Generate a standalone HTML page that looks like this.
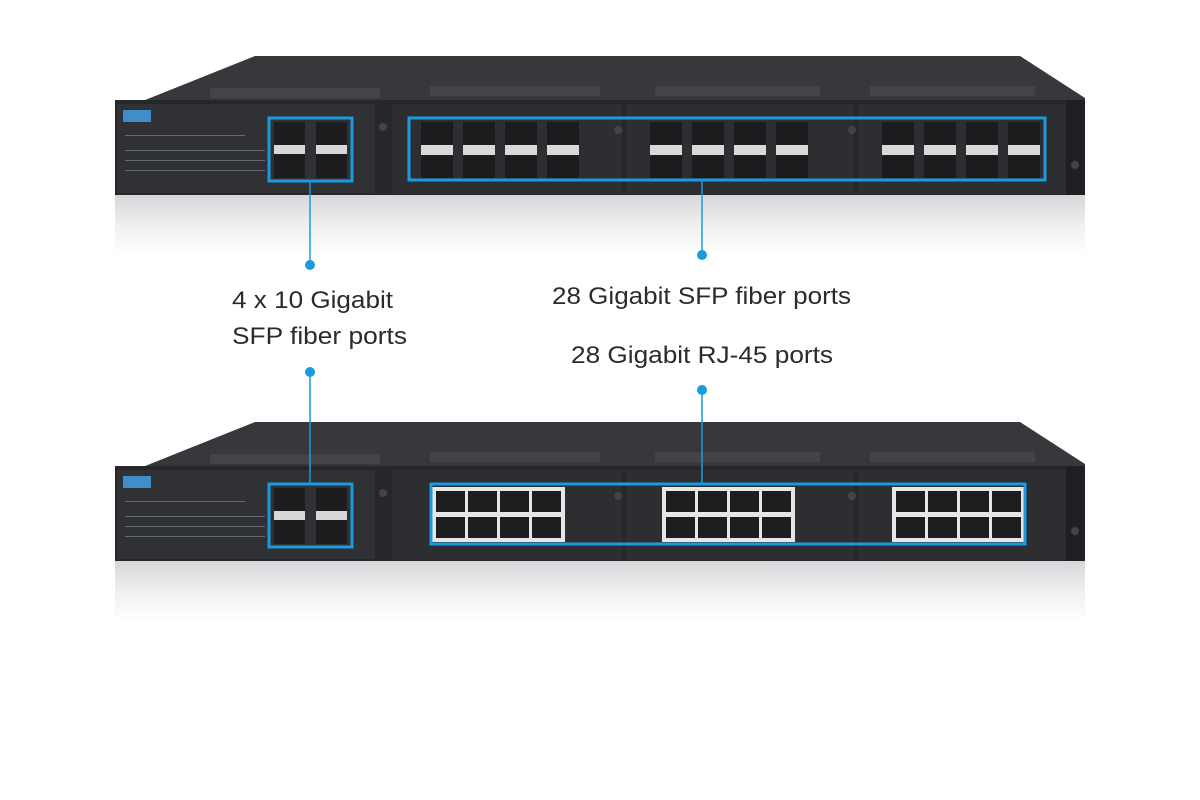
<!DOCTYPE html>
<html><head><meta charset="utf-8"><style>
html,body{margin:0;padding:0;background:#fff;width:1200px;height:800px;overflow:hidden}
svg{display:block}
text{font-family:"Liberation Sans",sans-serif;fill:#2b2b2b;font-size:24px}
</style></head><body>
<svg width="1200" height="800" viewBox="0 0 1200 800" xmlns="http://www.w3.org/2000/svg">
<defs>
<linearGradient id="refl" x1="0" y1="0" x2="0" y2="1">
<stop offset="0" stop-color="#d6d7d9"/><stop offset="0.5" stop-color="#efefef"/><stop offset="1" stop-color="#ffffff"/>
</linearGradient>
<g id="body">
<rect x="115" y="195" width="970" height="60" fill="url(#refl)"/>
<polygon points="115,112 255,56 1020,56 1085,98 1085,104 115,104" fill="#36383c"/>
<rect x="210" y="88" width="170" height="10" fill="#424448"/>
<rect x="430" y="86" width="170" height="10" fill="#424448"/>
<rect x="655" y="86" width="165" height="10" fill="#424448"/>
<rect x="870" y="86" width="165" height="10" fill="#424448"/>
<rect x="115" y="100" width="970" height="95" fill="#25272a"/>
<rect x="117" y="104" width="258" height="89" fill="#2f3134"/>
<rect x="392" y="104" width="230" height="90" fill="#2c2e31"/>
<rect x="626" y="104" width="228" height="90" fill="#2c2e31"/>
<rect x="858" y="104" width="208" height="90" fill="#2c2e31"/>
<rect x="1066" y="100" width="19" height="95" fill="#1f2023"/>
<rect x="123" y="110" width="28" height="12" fill="#3f8ec9"/>
<rect x="274" y="122" width="31" height="56" fill="#1c1d1f"/>
<rect x="316" y="122" width="31" height="56" fill="#1c1d1f"/>
<rect x="274" y="145" width="31" height="9" fill="#d8d8d8"/>
<rect x="316" y="145" width="31" height="9" fill="#d8d8d8"/>
<g fill="#666a70">
<rect x="125" y="135" width="120" height="1"/><rect x="125" y="150" width="140" height="1"/><rect x="125" y="160" width="140" height="1"/><rect x="125" y="170" width="140" height="1"/>
</g>
<circle cx="383" cy="127" r="4" fill="#444"/>
<circle cx="618" cy="130" r="4" fill="#444"/>
<circle cx="852" cy="130" r="4" fill="#444"/>
<circle cx="1075" cy="165" r="4" fill="#444"/>
</g>
</defs>

<use href="#body"/>
<use href="#body" transform="translate(0,366)"/>

<g>
<g id="sfp4">
<rect x="421" y="122" width="32" height="56" fill="#1b1c1e"/><rect x="421" y="145" width="32" height="10" fill="#d9d9d7"/>
<rect x="463" y="122" width="32" height="56" fill="#1b1c1e"/><rect x="463" y="145" width="32" height="10" fill="#d9d9d7"/>
<rect x="505" y="122" width="32" height="56" fill="#1b1c1e"/><rect x="505" y="145" width="32" height="10" fill="#d9d9d7"/>
<rect x="547" y="122" width="32" height="56" fill="#1b1c1e"/><rect x="547" y="145" width="32" height="10" fill="#d9d9d7"/>
</g>
<use href="#sfp4" transform="translate(229,0)"/>
<use href="#sfp4" transform="translate(461,0)"/>
</g>

<g>
<g id="rj">
<rect x="432" y="487" width="133" height="55" fill="#e6e6e4"/>
<rect x="436" y="491" width="29" height="21" fill="#1d1e20"/><rect x="468" y="491" width="29" height="21" fill="#1d1e20"/><rect x="500" y="491" width="29" height="21" fill="#1d1e20"/><rect x="532" y="491" width="29" height="21" fill="#1d1e20"/>
<rect x="436" y="517" width="29" height="21" fill="#1d1e20"/><rect x="468" y="517" width="29" height="21" fill="#1d1e20"/><rect x="500" y="517" width="29" height="21" fill="#1d1e20"/><rect x="532" y="517" width="29" height="21" fill="#1d1e20"/>
</g>
<use href="#rj" transform="translate(230,0)"/>
<use href="#rj" transform="translate(460,0)"/>
</g>

<g fill="none" stroke="#1a9be0" stroke-width="3">
<rect x="269" y="118" width="83" height="63"/>
<rect x="409" y="118" width="636" height="62"/>
<rect x="269" y="484" width="83" height="63"/>
<rect x="431" y="484" width="594" height="60"/>
</g>
<g stroke="#1a9be0" stroke-width="1.5">
<line x1="310" y1="181" x2="310" y2="265"/>
<line x1="702" y1="180" x2="702" y2="255"/>
<line x1="310" y1="372" x2="310" y2="484"/>
<line x1="702" y1="390" x2="702" y2="484"/>
</g>
<g fill="#1a9be0">
<circle cx="310" cy="265" r="5"/><circle cx="702" cy="255" r="5"/>
<circle cx="310" cy="372" r="5"/><circle cx="702" cy="390" r="5"/>
</g>

<text x="232" y="308" textLength="161" lengthAdjust="spacingAndGlyphs">4 x 10 Gigabit</text>
<text x="232" y="344" textLength="175" lengthAdjust="spacingAndGlyphs">SFP fiber ports</text>
<text x="552" y="304" textLength="299" lengthAdjust="spacingAndGlyphs">28 Gigabit SFP fiber ports</text>
<text x="571" y="363" textLength="262" lengthAdjust="spacingAndGlyphs">28 Gigabit RJ-45 ports</text>
</svg>
</body></html>
